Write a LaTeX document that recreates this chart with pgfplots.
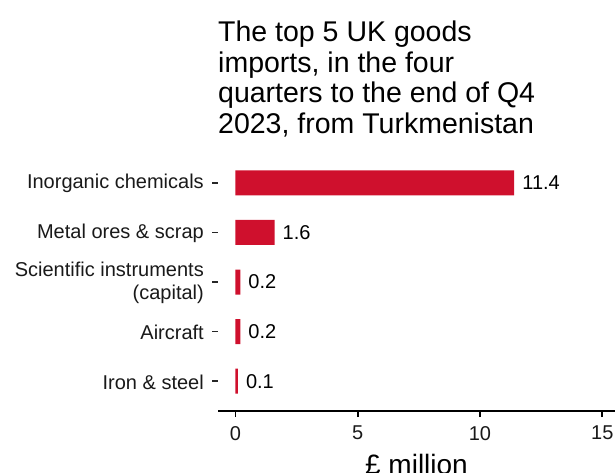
\documentclass[border=0pt]{standalone}
\usepackage{fontspec}
\setmainfont{Liberation Sans}
\usepackage{pgfplots}
\pgfplotsset{compat=1.18}
\definecolor{barred}{RGB}{207,16,45}
\begin{document}
\begin{tikzpicture}[x=1pt,y=1pt]
\path[use as bounding box] (0,0) rectangle (615,472);
\begin{axis}[
  at={(218pt,61pt)}, anchor=south west,
  scale only axis, width=397pt, height=258pt,
  xmin=-0.71, xmax=15.52, ymin=0.4, ymax=5.6,
  xbar, bar width=25pt,
  axis x line*=bottom, axis y line*=left,
  axis line style={-},
  y axis line style={draw=none},
  x axis line style={line width=1.7pt},
  xtick={0,5,10,15},
  ytick={1,2,3,4,5},
  yticklabels={Iron \& steel, Aircraft, {Scientific instruments\\(capital)}, Metal ores \& scrap, Inorganic chemicals},
  tick align=outside,
  major tick length=6pt,
  xtick style={line width=1.7pt, black},
  ytick style={line width=1.6pt, black!85},
  /pgf/number format/assume math mode=true,
  xticklabel style={font=\fontsize{20}{23}\selectfont, inner sep=0pt, anchor=north, yshift=-9pt, text=black!90},
  yticklabel style={font=\fontsize{20}{23}\selectfont, inner sep=0pt, anchor=east, xshift=-8pt, yshift=-1pt, align=right, text=black!90},
  xlabel={£ million},
  xlabel style={at={(axis description cs:0.5,0)}, anchor=north, yshift=-43pt, inner sep=0pt, font=\fontsize{28}{32}\selectfont},
  title={The top 5 UK goods\\imports, in the four\\quarters to the end of Q4\\2023, from Turkmenistan},
  title style={at={(axis description cs:0,1)}, anchor=north west, yshift=126.5pt, align=left, inner sep=0pt, font=\fontsize{28.5}{30.8}\selectfont},
  point meta=x,
  nodes near coords={\pgfmathprintnumber[fixed,precision=1,fixed zerofill]{\pgfplotspointmeta}},
  nodes near coords style={anchor=west, inner sep=0pt, xshift=8pt, font=\fontsize{20}{23}\selectfont, text=black},
  clip=false,
]
\addplot[fill=barred, draw=none] coordinates {(0.1,1) (0.2,2) (0.2,3) (1.6,4) (11.4,5)};
\end{axis}
\end{tikzpicture}
\end{document}
